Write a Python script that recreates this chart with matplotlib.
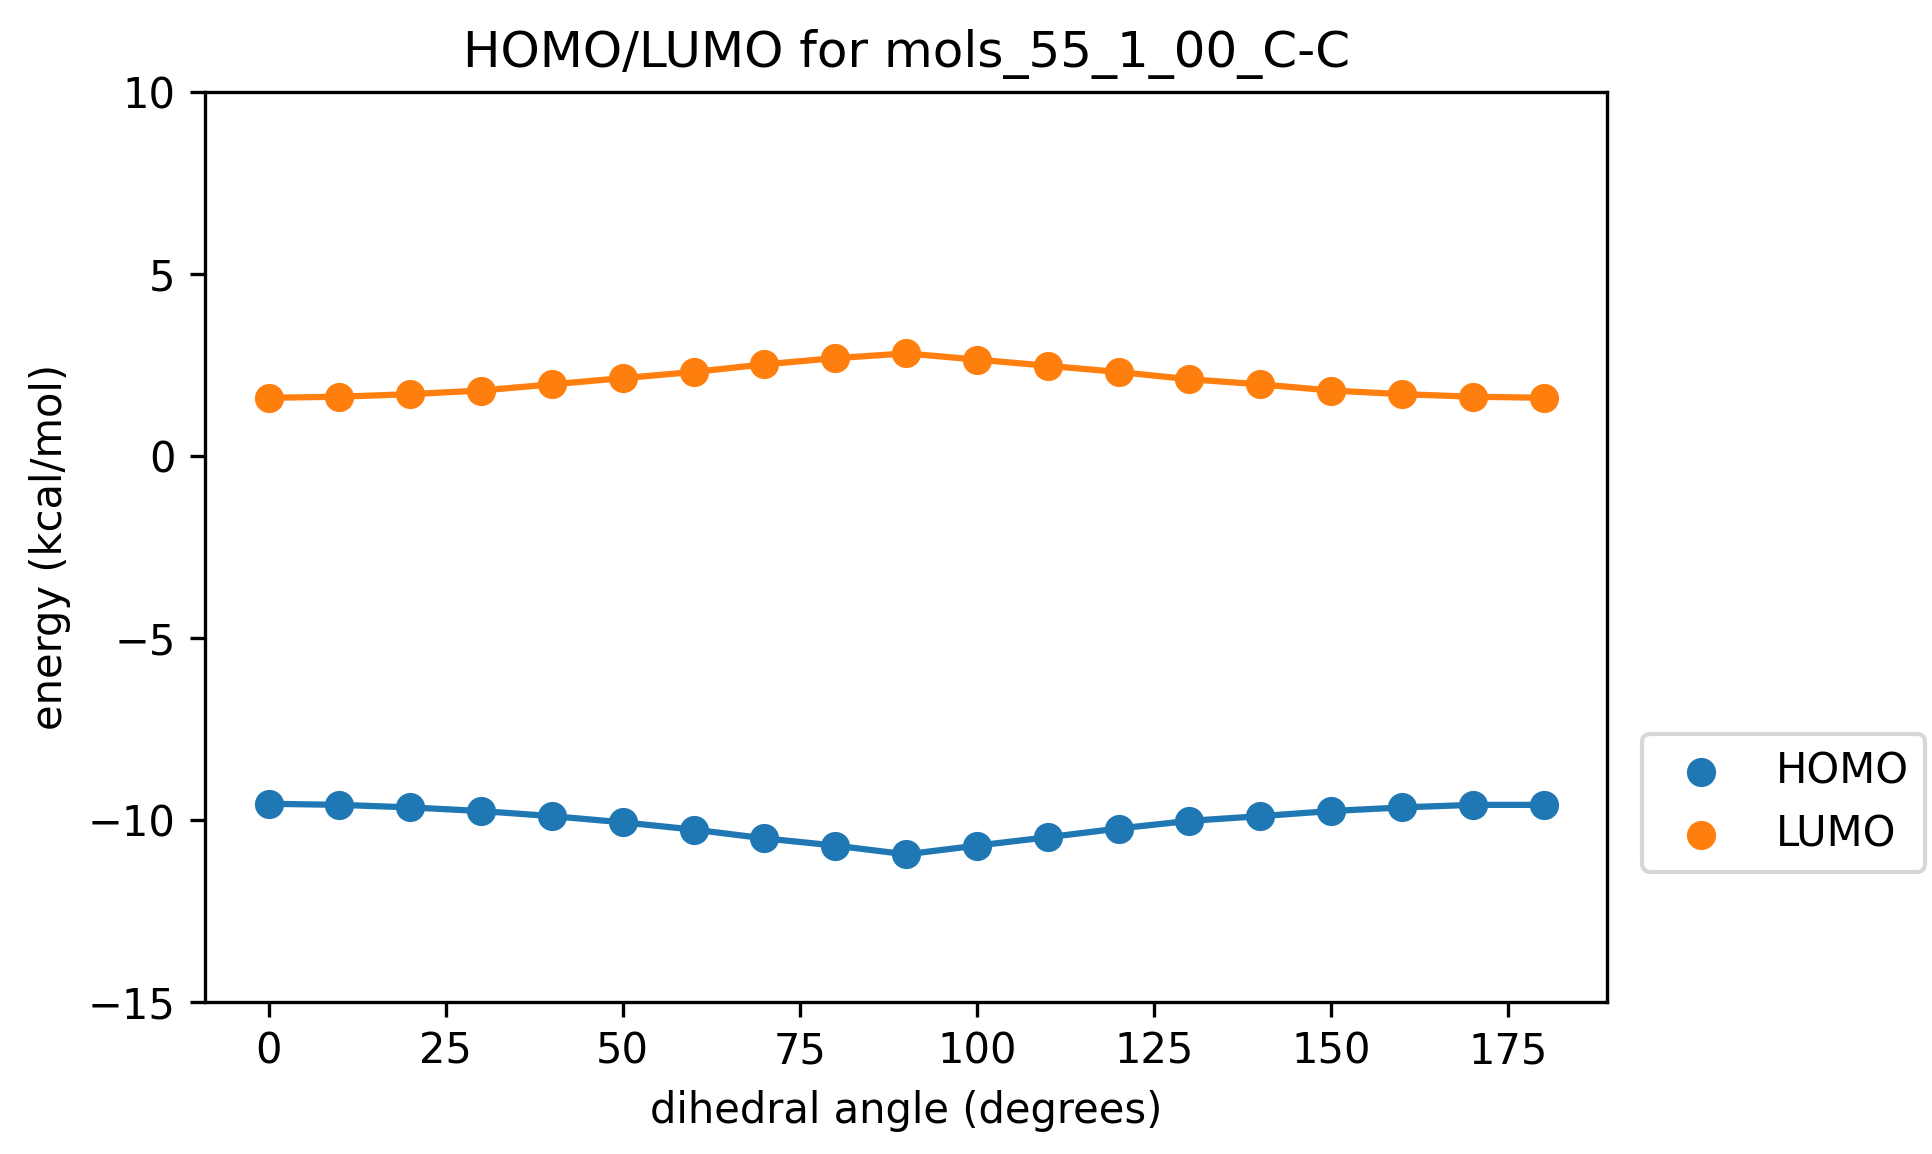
import matplotlib
matplotlib.use('Agg')
import matplotlib.pyplot as plt

# dihedral scan data
angles = [0, 10, 20, 30, 40, 50, 60, 70, 80, 90, 100, 110, 120, 130, 140, 150, 160, 170, 180]
homo = [-9.56, -9.59, -9.66, -9.76, -9.90, -10.07, -10.27, -10.51, -10.71, -10.95,
        -10.71, -10.48, -10.24, -10.03, -9.90, -9.76, -9.66, -9.59, -9.59]
lumo = [1.60, 1.63, 1.70, 1.80, 1.97, 2.14, 2.31, 2.52, 2.69, 2.82,
        2.65, 2.48, 2.31, 2.11, 1.97, 1.80, 1.70, 1.63, 1.60]

fig = plt.figure(figsize=(6.44, 3.847), dpi=300)
ax = fig.add_axes([0.106, 0.132, 0.726, 0.788])

ax.scatter(angles, homo, color='C0', label='HOMO')
ax.plot(angles, homo, color='C0')
ax.scatter(angles, lumo, color='C1', label='LUMO')
ax.plot(angles, lumo, color='C1')

ax.set_ylim(-15, 10)
ax.set_xlabel('dihedral angle (degrees)')
ax.set_ylabel('energy (kcal/mol)')
ax.set_title('HOMO/LUMO for mols_55_1_00_C-C')
ax.legend(loc='lower left', bbox_to_anchor=(1.01, 0.12))

fig.savefig('out.png', dpi=300)
